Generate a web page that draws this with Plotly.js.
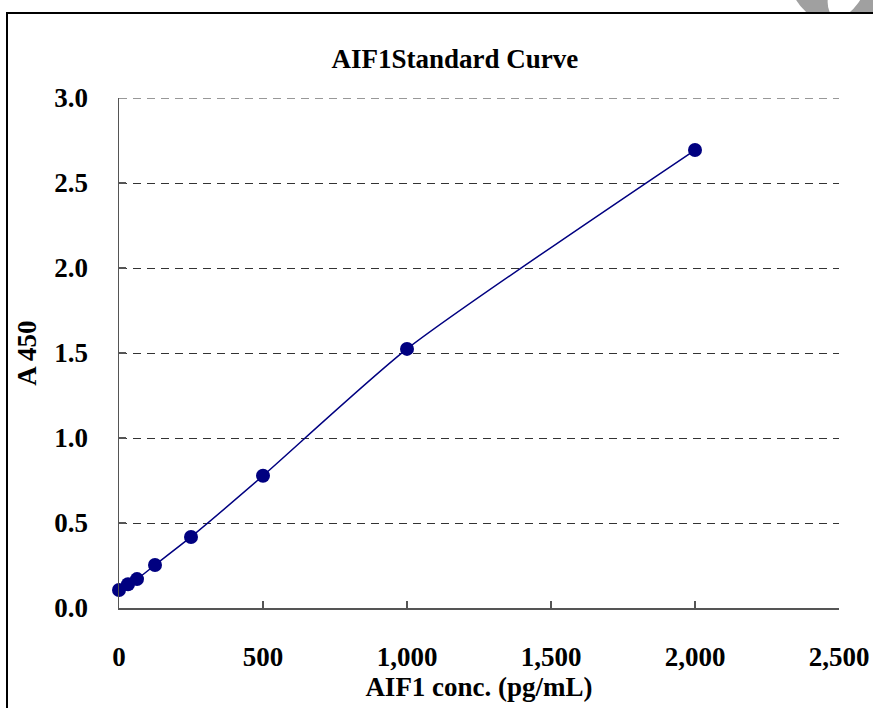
<!DOCTYPE html>
<html>
<head>
<meta charset="utf-8">
<script src="https://cdn.plot.ly/plotly-3.0.1.min.js"></script>
<style>
  html, body { margin: 0; padding: 0; background: #fff; overflow: hidden; }
  #wrap { position: relative; width: 873px; height: 708px; overflow: hidden; }
  #chart { position: absolute; left: 0; top: 0; width: 873px; height: 708px; }
  #frame { position: absolute; left: 6px; top: 12px; width: 900px; height: 720px;
           border-left: 2px solid #000; border-top: 2px solid #000; pointer-events: none; }
  #mark { position: absolute; left: 790px; top: -70px; width: 110px; height: 96px;
          border-radius: 50%; background: #a0a0a0; }
  #mark2 { position: absolute; left: 832px; top: -50px; width: 34px; height: 70px;
           border-radius: 50%; background: #fff; transform: rotate(25deg); }
  #cover { position: absolute; left: 780px; top: 14px; width: 120px; height: 40px; background: #fff; }
</style>
</head>
<body>
<div id="wrap">
  <div id="chart"></div>
  <div id="mark"></div>
  <div id="mark2"></div>
  <div id="cover"></div>
  <div id="frame"></div>
</div>
<script>
const concentration = [0, 31.25, 62.5, 125, 250, 500, 1000, 2000];
const absorbance = [0.106, 0.14, 0.17, 0.253, 0.418, 0.778, 1.524, 2.694];
const yTicks = [0, 0.5, 1.0, 1.5, 2.0, 2.5, 3.0];
const yTickLabels = ['0.0', '0.5', '1.0', '1.5', '2.0', '2.5', '3.0'];
const xTicks = [0, 500, 1000, 1500, 2000, 2500];
const xTickLabels = ['0', '500', '1,000', '1,500', '2,000', '2,500'];

const fontFam = 'Liberation Serif';
const FS = 27;

const traces = [{
  x: concentration,
  y: absorbance,
  type: 'scatter',
  mode: 'lines+markers',
  line: { color: '#000080', width: 1.5, shape: 'spline', smoothing: 0.6 },
  marker: { color: '#000080', size: 14 },
  cliponaxis: false,
  hoverinfo: 'skip'
}];

const yMax = yTicks[yTicks.length - 1];
const xMax = xTicks[xTicks.length - 1];

const layout = {
  width: 873, height: 708,
  margin: { l: 119, r: 34, t: 98, b: 100 },
  paper_bgcolor: '#fff', plot_bgcolor: '#fff',
  showlegend: false,
  font: { family: fontFam, color: '#000' },
  title: {
    text: 'AIF1Standard Curve',
    font: { family: fontFam, size: FS, color: '#000', weight: 'bold' },
    x: 0.521, xanchor: 'center', y: 0.917, yanchor: 'middle'
  },
  xaxis: {
    range: [0, xMax],
    tickvals: xTicks, ticktext: xTickLabels,
    ticks: 'inside', ticklen: 7, tickwidth: 1.5, tickcolor: '#555',
    showline: true, linecolor: '#555', linewidth: 1.5,
    showgrid: false, zeroline: false,
    tickfont: { family: fontFam, size: FS, color: '#000', weight: 'bold' },
    ticklabelstandoff: 24,
    title: { text: 'AIF1 conc. (pg/mL)', font: { family: fontFam, size: FS, color: '#000', weight: 'bold' }, standoff: 6 }
  },
  yaxis: {
    range: [0, yMax],
    tickvals: yTicks, ticktext: yTickLabels,
    ticks: 'inside', ticklen: 7, tickwidth: 1.5, tickcolor: '#555',
    showline: true, linecolor: '#555', linewidth: 1.5,
    showgrid: true, gridcolor: '#333', griddash: '8px,6px', gridwidth: 1,
    zeroline: false,
    tickfont: { family: fontFam, size: FS, color: '#000', weight: 'bold' },
    ticklabelstandoff: 24,
    title: { text: 'A 450', font: { family: fontFam, size: FS, color: '#000', weight: 'bold' }, standoff: 10 }
  },
  shapes: [{
    type: 'line', xref: 'x', yref: 'y', x0: 0, x1: xMax, y0: yMax, y1: yMax,
    line: { color: '#333', width: 1, dash: '8px,6px' }, layer: 'below'
  }]
};

Plotly.newPlot('chart', traces, layout, { displayModeBar: false, staticPlot: true });
</script>
</body>
</html>
